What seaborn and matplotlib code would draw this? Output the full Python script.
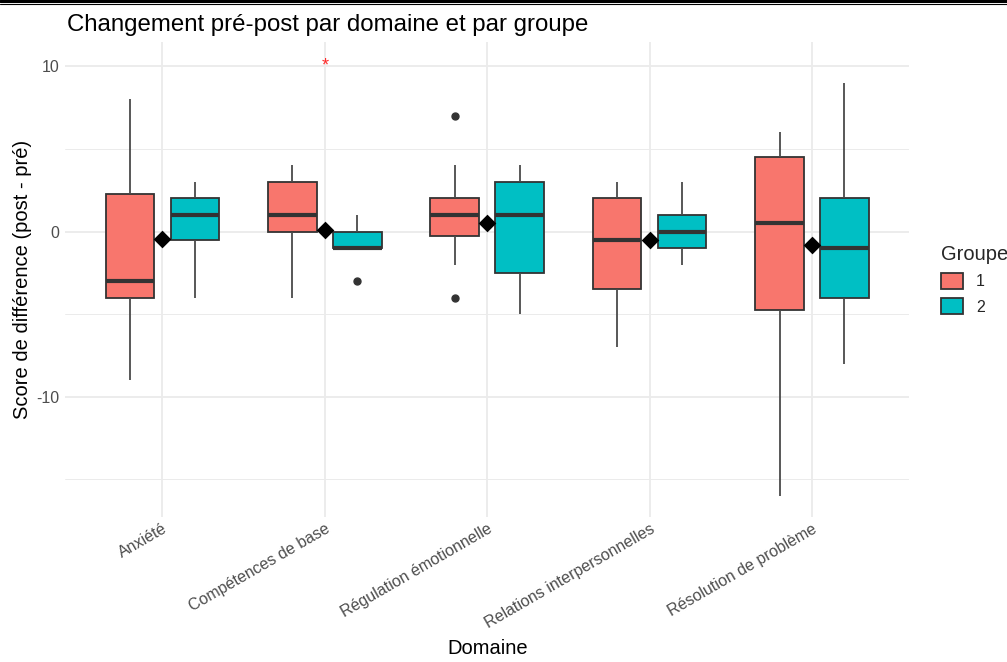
import numpy as np
import pandas as pd
import matplotlib
matplotlib.use("Agg")
import matplotlib.pyplot as plt
import seaborn as sns
from matplotlib.lines import Line2D

# ---------------- data ----------------
domains = ["Anxiété", "Compétences de base", "Régulation émotionnelle",
           "Relations interpersonnelles", "Résolution de problème"]
groups = ["1", "2"]

anx_g1 = [-9, -5, -4, -4, -3, -3, 0, 3, 5, 8]
anx_g2 = [-4, -2, -1, 1, 1, 1, 2, 2, 3, 3]
comp_g1 = [-4, -1, 0, 0, 1, 1, 3, 3, 4, 4]
comp_g2 = [-3, -1, -1, -1, -1, -1, 0, 0, 0, 1]
reg_g1 = [-4, -2, -1, 0, 1, 1, 1, 2, 2, 2, 4, 7]
reg_g2 = [-5, -4, -3, -1, 1, 1, 3, 3, 4, 4]
rel_g1 = [-7, -5, -4, -2, -1, 0, 2, 2, 3, 3]
rel_g2 = [-2, -1, -1, -1, 0, 0, 1, 1, 2, 3]
res_g1 = [-16, -8, -5, -4, 0, 1, 3, 5, 5, 6]
res_g2 = [-8, -6, -4, -4, -1, -1, 2, 2, 5, 9]

domain_means = [-0.45, 0.08, 0.5, -0.52, -0.8]   # black diamonds
signif_domains = ["Compétences de base"]
signif_y = [10.15]

title = "Changement pré-post par domaine et par groupe"
xlabel = "Domaine"
ylabel = "Score de différence (post - pré)"
legend_title = "Groupe"

# ---------------- long table ----------------
series = {
    ("Anxiété", "1"): anx_g1, ("Anxiété", "2"): anx_g2,
    ("Compétences de base", "1"): comp_g1, ("Compétences de base", "2"): comp_g2,
    ("Régulation émotionnelle", "1"): reg_g1, ("Régulation émotionnelle", "2"): reg_g2,
    ("Relations interpersonnelles", "1"): rel_g1, ("Relations interpersonnelles", "2"): rel_g2,
    ("Résolution de problème", "1"): res_g1, ("Résolution de problème", "2"): res_g2,
}
rows = []
for (d, g), vals in series.items():
    for v in vals:
        rows.append({"Domaine": d, "Groupe": g, "Score": v})
df = pd.DataFrame(rows)

# ---------------- style ----------------
sns.set_theme(style="whitegrid")
plt.rcParams["font.family"] = ["Liberation Sans", "DejaVu Sans"]
plt.rcParams["axes.unicode_minus"] = False

fig = plt.figure(figsize=(10.07, 6.62), dpi=100)
ax = fig.add_axes([0.0646, 0.219, 0.8385, 0.717])

palette = {"1": "#F8766D", "2": "#00BFC4"}
edge = "#333333"

sns.boxplot(data=df, x="Domaine", y="Score", hue="Groupe",
            order=domains, hue_order=groups, palette=palette,
            width=0.8, gap=0.25, linecolor=edge, linewidth=1.3,
            showcaps=False, whis=1.5, saturation=1,
            medianprops={"linewidth": 3.0, "color": edge},
            whiskerprops={"color": "#4A4A4A"},
            flierprops={"marker": "o", "markersize": 5,
                        "markerfacecolor": edge, "markeredgecolor": edge},
            ax=ax, legend=False)

sns.stripplot(x=domains, y=domain_means, order=domains, marker="D",
              color="black", size=9, jitter=False, ax=ax, zorder=5,
              linewidth=0)

for d, yv in zip(signif_domains, signif_y):
    ax.text(domains.index(d), yv - 0.15, "*", color="#FF2A2A", fontsize=13,
            ha="center", va="center")

ax.set_xlim(-0.6, len(domains) - 0.4)
ax.set_ylim(-17.3, 11.46)
ax.set_yticks([-10, 0, 10])
ax.set_yticks([-15, -5, 5], minor=True)
ax.set_facecolor("white")
for s in ax.spines.values():
    s.set_visible(False)
ax.grid(True, which="major", color="#EBEBEB", linewidth=1.3)
ax.grid(True, which="minor", axis="y", color="#EBEBEB", linewidth=0.7)
ax.set_axisbelow(True)
ax.tick_params(axis="both", which="both", length=0, labelsize=11.5,
               labelcolor="#4D4D4D")
ax.tick_params(axis="y", pad=4)
ax.tick_params(axis="x", pad=3)
plt.setp(ax.get_xticklabels(), rotation=30, ha="right", rotation_mode="anchor")

ax.set_xlabel(xlabel, fontsize=14.5, color="black", labelpad=6)
ax.set_ylabel(ylabel, fontsize=14.5, color="black", labelpad=3)
fig.text(0.0665, 0.962, title, fontsize=17.3, color="black", ha="left",
         va="center")

handles = [plt.Rectangle((0, 0), 1, 1, facecolor=palette[g], edgecolor=edge,
                         linewidth=1.3) for g in groups]
leg = ax.legend(handles, groups, title=legend_title, loc="center left",
                bbox_to_anchor=(1.02, 0.5), frameon=False, fontsize=11.5,
                title_fontsize=14.5, handlelength=1.4, handleheight=1.2,
                handletextpad=0.8, labelspacing=0.55, alignment="left")

# frame lines at the very top of the picture
fig.add_artist(Line2D([0, 1], [0.998, 0.998], transform=fig.transFigure,
                      color="black", linewidth=2.2))
fig.add_artist(Line2D([0, 1], [0.9935, 0.9935], transform=fig.transFigure,
                      color="black", linewidth=0.8))

fig.savefig("out.png", dpi=100, facecolor="white")
